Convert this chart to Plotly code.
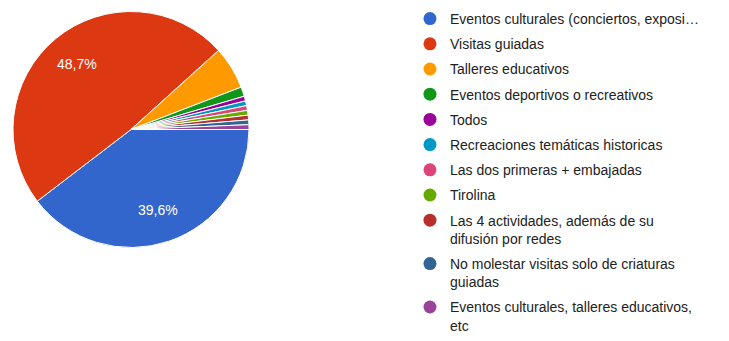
import math

import plotly.graph_objects as go

# respuestas por opción (154 en total)
labels = [
    "Eventos culturales (conciertos, exposi…",
    "Visitas guiadas",
    "Talleres educativos",
    "Eventos deportivos o recreativos",
    "Todos",
    "Recreaciones temáticas historicas",
    "Las dos primeras + embajadas",
    "Tirolina",
    "Las 4 actividades, además de su<br>difusión por redes",
    "No molestar visitas solo de criaturas<br>guiadas",
    "Eventos culturales, talleres educativos,<br>etc",
]
counts = [61, 75, 9, 2, 1, 1, 1, 1, 1, 1, 1]
colors = [
    "#3366cc", "#dc3912", "#ff9900", "#109618", "#990099", "#0099c6",
    "#dd4477", "#66aa00", "#b82e2e", "#316395", "#994499",
]

W, H = 729, 341
FONT = "Arial, 'Liberation Sans', sans-serif"

# geometría de la tarta (px dentro de la figura)
CX, CY, R = 123, 121.5, 118
START = 90  # el primer sector arranca a las 3 en punto

total = sum(counts)

fig = go.Figure()
fig.add_trace(go.Pie(
    labels=labels,
    values=counts,
    textinfo="none",
    marker=dict(colors=colors, line=dict(color="white", width=1)),
    sort=False,
    direction="clockwise",
    rotation=START,
    showlegend=False,
    hoverinfo="label+percent",
    domain=dict(x=[(CX - R) / W, (CX + R) / W],
                y=[1 - (CY + R) / H, 1 - (CY - R) / H]),
))

# porcentajes solo en los sectores grandes, sobre la bisectriz
annotations = []
cum = 0
for c in counts:
    frac = c / total
    mid = (cum + frac / 2) * 360  # grados, sentido horario desde las 3
    cum += frac
    if frac < 0.1:
        continue
    a = math.radians(mid)
    px = CX + 0.72 * R * math.cos(a)
    py = CY + 0.72 * R * math.sin(a)
    annotations.append(dict(
        x=px / W, y=1 - py / H, xref="paper", yref="paper",
        xanchor="center", yanchor="middle",
        text=f"{frac * 100:.1f}%".replace(".", ","),
        showarrow=False,
        font=dict(family=FONT, size=14, color="white"),
    ))

# leyenda con círculos, como en el original
for i, (lab, col) in enumerate(zip(labels, colors)):
    fig.add_trace(go.Scatter(
        x=[None], y=[None], mode="markers",
        marker=dict(symbol="circle", size=13, color=col),
        name=lab, legendgroup=f"g{i}", showlegend=True,
        hoverinfo="skip",
    ))

fig.update_layout(
    width=W,
    height=H,
    margin=dict(l=0, r=0, t=0, b=0, autoexpand=False),
    paper_bgcolor="white",
    plot_bgcolor="white",
    font=dict(family=FONT, size=14, color="#222222"),
    xaxis=dict(visible=False),
    yaxis=dict(visible=False),
    annotations=annotations,
    legend=dict(
        x=0.5514, y=1.0147, xanchor="left", yanchor="top",
        maxheight=400,
        tracegroupgap=4,
        itemsizing="trace",
        valign="top",
        font=dict(family=FONT, size=14, color="#222222"),
        bgcolor="rgba(0,0,0,0)",
    ),
)

fig.write_html("out.html")
